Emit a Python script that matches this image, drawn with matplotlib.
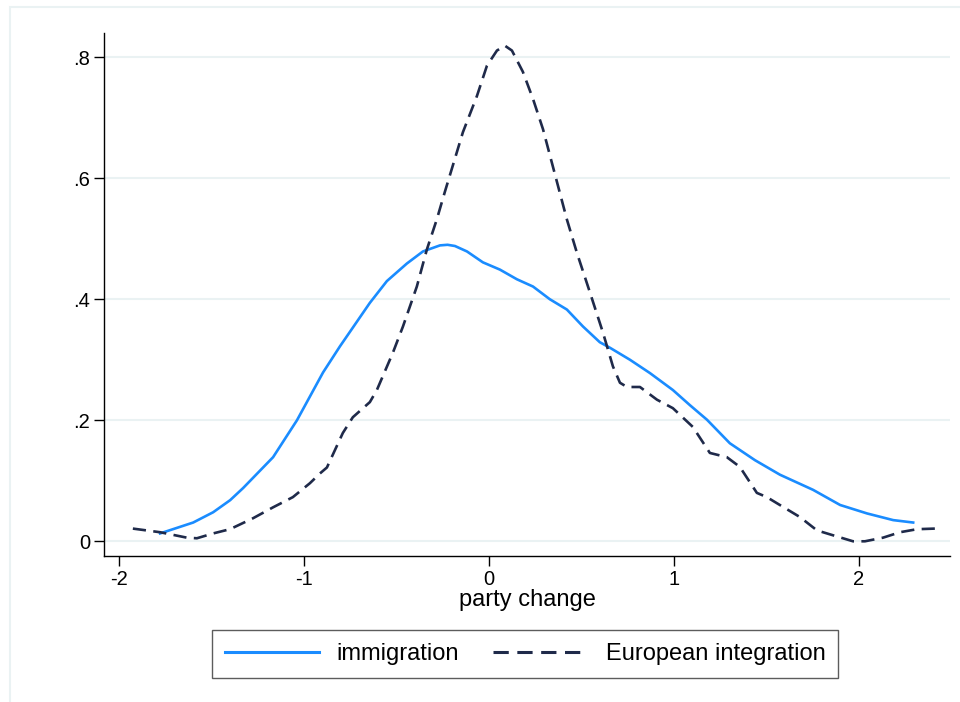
import matplotlib
matplotlib.use("Agg")
import matplotlib.pyplot as plt
from matplotlib.patches import Rectangle

plt.rcParams['font.family'] = ['Liberation Sans', 'DejaVu Sans']

# kernel density
imm_x = [-1.776, -1.597, -1.489, -1.397, -1.327, -1.165, -1.036, -0.895, -0.804,
         -0.642, -0.550, -0.442, -0.355, -0.263, -0.222, -0.182, -0.117, -0.031, 0.061,
         0.153, 0.240, 0.331, 0.423, 0.510, 0.601, 0.655, 0.764, 0.872, 0.996,
         1.088, 1.180, 1.304, 1.440, 1.575, 1.754, 1.900, 2.046, 2.187, 2.295]
imm_y = [0.013, 0.031, 0.048, 0.068, 0.088, 0.139, 0.200, 0.279, 0.322,
         0.394, 0.430, 0.459, 0.479, 0.489, 0.490, 0.488, 0.479, 0.461, 0.449,
         0.433, 0.421, 0.400, 0.383, 0.355, 0.329, 0.320, 0.300, 0.278, 0.250,
         0.225, 0.201, 0.162, 0.134, 0.110, 0.085, 0.060, 0.046, 0.035, 0.031]

eu_x = [-1.923, -1.776, -1.631, -1.577, -1.489, -1.398, -1.274, -1.166, -1.058,
        -0.966, -0.912, -0.874, -0.788, -0.734, -0.642, -0.604, -0.517, -0.463,
        -0.388, -0.334, -0.280, -0.236, -0.139, -0.063, -0.009, 0.045, 0.088,
        0.126, 0.185, 0.240, 0.294, 0.423, 0.477, 0.548, 0.618, 0.672, 0.710,
        0.748, 0.818, 0.910, 0.996, 1.104, 1.196, 1.288, 1.358, 1.450, 1.504,
        1.558, 1.683, 1.775, 1.861, 1.970, 2.034, 2.132, 2.224, 2.316, 2.413]
eu_y = [0.021, 0.015, 0.006, 0.005, 0.013, 0.020, 0.038, 0.056, 0.073,
        0.096, 0.112, 0.122, 0.179, 0.205, 0.230, 0.250, 0.312, 0.355,
        0.421, 0.482, 0.532, 0.578, 0.676, 0.736, 0.786, 0.811, 0.819,
        0.811, 0.776, 0.731, 0.681, 0.532, 0.477, 0.411, 0.345, 0.289, 0.262,
        0.255, 0.255, 0.234, 0.220, 0.189, 0.146, 0.139, 0.123, 0.080, 0.073,
        0.063, 0.040, 0.018, 0.010, 0.0, 0.0, 0.006, 0.015, 0.020, 0.021]

xticks = [-2, -1, 0, 1, 2]
yticks = [0, 0.2, 0.4, 0.6, 0.8]
ytick_labels = ['0', '.2', '.4', '.6', '.8']

blue = '#1a8cff'
navy = '#1f2a4a'
grid_c = '#eaf2f3'

fig = plt.figure(figsize=(9.6, 7.02), dpi=100)
fig.patches.append(Rectangle((10 / 960, -0.1), 1.2, 1 - 7 / 702 + 0.1,
                             transform=fig.transFigure, fill=False,
                             edgecolor=grid_c, linewidth=1.5))

ax = fig.add_axes([104 / 960, 1 - 556 / 702, 846 / 960, 523 / 702])
ax.plot(imm_x, imm_y, color=blue, lw=1.9, label='immigration')
ax.plot(eu_x, eu_y, color=navy, lw=1.9, dashes=(5, 2.8), label='European integration')

ax.set_xlim(-2.079, 2.494)
ax.set_ylim(-0.0243, 0.84)
ax.set_xticks(xticks)
ax.set_xticklabels([str(t) for t in xticks])
ax.set_yticks(yticks)
ax.set_yticklabels(ytick_labels)
ax.grid(axis='y', color=grid_c, lw=1.5)
ax.set_axisbelow(True)
for s in ['top', 'right']:
    ax.spines[s].set_visible(False)
ax.spines['left'].set_linewidth(1.0)
ax.spines['bottom'].set_linewidth(1.0)
ax.tick_params(axis='both', length=7, width=1.0, labelsize=14.5, pad=3)
ax.set_xlabel('party change', fontsize=17, labelpad=0)

leg = fig.legend(loc='center', bbox_to_anchor=(525 / 960, 1 - 654 / 702), ncol=2,
                 fontsize=17, handlelength=4.0, columnspacing=1.45, frameon=True,
                 fancybox=False, borderpad=0.55, handletextpad=0.75,
                 borderaxespad=0)
leg.get_frame().set_edgecolor('#333333')
leg.get_frame().set_linewidth(1.0)
for h in leg.get_lines():
    h.set_linewidth(2.2)

fig.savefig('out.png', dpi=100)
